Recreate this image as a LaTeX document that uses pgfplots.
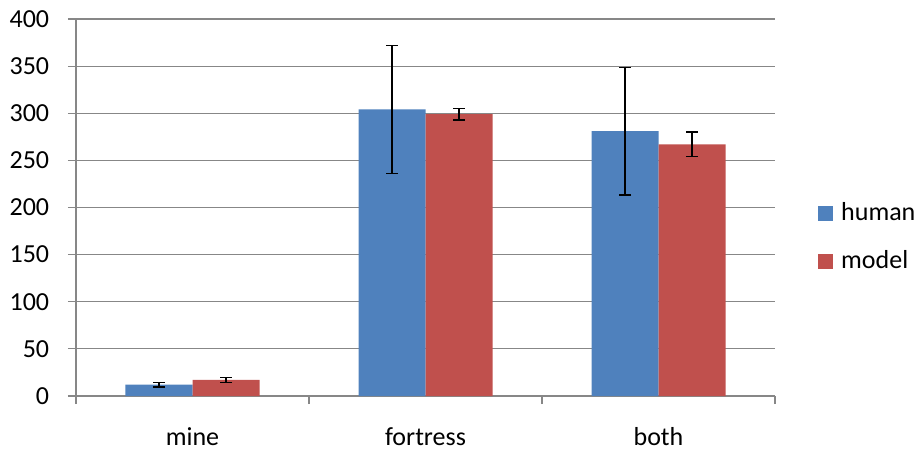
\documentclass[border=0pt]{standalone}
\usepackage{fontspec}
\setmainfont{Carlito}
\usepackage{pgfplots}
\usepackage{pgfplotstable}
\pgfplotsset{compat=1.18}
\definecolor{hblue}{HTML}{4F81BD}
\definecolor{mred}{HTML}{C0504D}
\definecolor{gridg}{HTML}{878787}
\pgfplotstableread{
x y e
0 12 2.5
1 304 68
2 281 67.5
}\human
\pgfplotstableread{
x y e
0 17 2.5
1 299 6
2 267 13
}\model
\begin{document}
\fontsize{26}{31}\selectfont
\begin{tikzpicture}[x=1pt,y=1pt]
\path[use as bounding box] (0,0) rectangle (918,458);
\begin{axis}[
  at={(76pt,62pt)}, anchor=south west,
  width=699pt, height=377pt, scale only axis,
  xmin=-0.5, xmax=2.5, ymin=0, ymax=400,
  ytick={0,50,...,400},
  xtick={0,1,2}, xticklabels={mine,fortress,both},
  minor xtick={-0.5,0.5,1.5,2.5},
  axis x line=bottom, axis y line=left,
  axis line style={gridg, line width=1.2pt, -},
  ymajorgrids, grid style={gridg, line width=1.2pt},
  tick align=outside,
  major tick length=8pt, minor tick length=8pt,
  tick style={gridg, line width=1.2pt},
  major x tick style={draw=none},
  /pgf/number format/assume math mode=true,
  tick label style={font=\fontsize{26}{31}\selectfont},
  yticklabel style={xshift=-10pt},
  xticklabel style={yshift=-15pt},
  ybar=0pt, bar width=67pt,
  legend style={draw=none, fill=none, inner sep=0pt,
    at={(axis description cs:1,0.42)}, anchor=west, xshift=43pt,
    font=\fontsize{26}{31}\selectfont, row sep=22pt},
  legend cell align=left,
  legend image code/.code={\fill[#1] (0pt,-7.5pt) rectangle (15pt,7.5pt); \path (21pt,0pt);},
]
\addplot[fill=hblue, draw=none,
  error bars/.cd, y dir=both, y explicit,
  error bar style={black, line width=1.6pt},
  error mark options={rotate=90, mark size=6pt, line width=1.6pt, black}]
  table[x=x, y=y, y error=e] {\human};
\addplot[fill=mred, draw=none,
  error bars/.cd, y dir=both, y explicit,
  error bar style={black, line width=1.6pt},
  error mark options={rotate=90, mark size=6pt, line width=1.6pt, black}]
  table[x=x, y=y, y error=e] {\model};
\legend{human, model}
\end{axis}
\end{tikzpicture}
\end{document}
